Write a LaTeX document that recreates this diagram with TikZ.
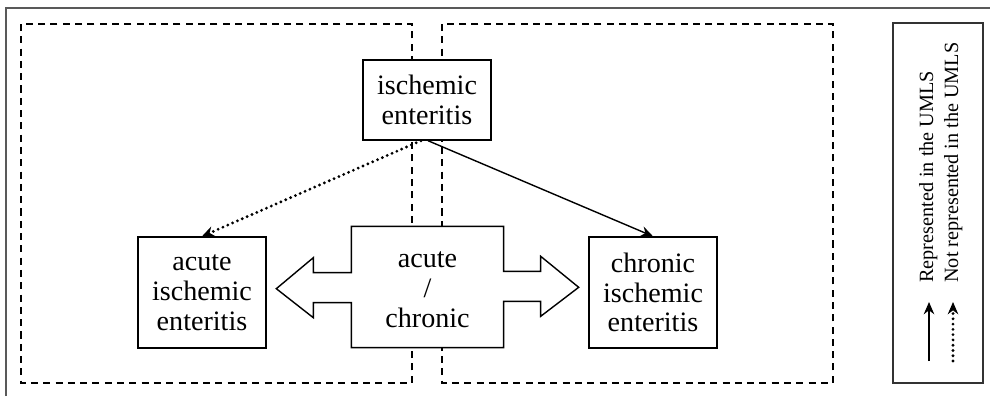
\documentclass[tikz,border=0pt]{standalone}
\usepackage{fontspec}
\setmainfont{Liberation Serif}
\usetikzlibrary{arrows.meta,calc}
\begin{document}
\begin{tikzpicture}[x=0.02cm,y=-0.02cm,
  concept/.style={draw,rectangle,fill=white,line width=0.8pt,align=center,inner sep=0pt,
    font=\fontsize{16}{17}\selectfont},
  group/.style={line width=0.9pt,dash pattern=on 4pt off 3pt},
  isa/.style={line width=0.8pt,-{Stealth[length=7pt,width=6pt]}},
  notisa/.style={line width=1.8pt,dash pattern=on 0pt off 3pt,line cap=round,
    -{Stealth[length=7pt,width=6pt,line width=0.7pt,line cap=butt]}},
  legendtext/.style={rotate=90,anchor=base west,inner sep=0pt,
    font=\fontsize{11.5}{14}\selectfont}]
\useasboundingbox (0,0) rectangle (990,396);
% outer frame, only top and left visible
\draw[gray!70!black,line width=1.2pt] (6,396) -- (6,8) -- (990,8);
% the two groups
\draw[group] (21,24) rectangle (412,383);
\draw[group] (442,24) rectangle (833,383);
% concepts
\node[concept,minimum width=2.56cm,minimum height=1.6cm] (top) at (427,100) {ischemic\\enteritis};
\node[concept,minimum width=2.56cm,minimum height=2.22cm] (acute) at (202,292.5) {acute\\ischemic\\enteritis};
\node[concept,minimum width=2.56cm,minimum height=2.22cm] (chronic) at (653,292.5) {chronic\\ischemic\\enteritis};
\node[concept,draw=none,fill=none,minimum width=3.02cm,minimum height=2.4cm] (mid) at (427.5,287) {};
\draw[line width=0.8pt,fill=white] (mid.north west) -- (mid.north east) -- ++(0,45) -- ++(37,0)
  -- ++(0,-15) -- ++(38,31) -- ++(-38,29) -- ++(0,-15) -- ++(-37,0) -- (mid.south east)
  -- (mid.south west) -- ++(0,-45) -- ++(-38,0) -- ++(0,15) -- ++(-37,-29) -- ++(37,-31)
  -- ++(0,15) -- ++(38,0) -- cycle;
\node[font=\fontsize{16}{17}\selectfont,align=center] (midtext) at ($(mid)+(0,3)$) {acute\\/\\chronic};
% relations
\draw[notisa] ($(top.south)+(-6,0)$) -- (acute.north);
\draw[isa] ($(top.south)+(1,0)$) -- (chronic.north);
% legend
\draw[line width=0.6pt,gray!40!black] (893,23) rectangle (983,383);
\coordinate (l1a) at (929,361);
\coordinate (l1b) at (929,302);
\coordinate (l2a) at (953,361);
\coordinate (l2b) at (953,302);
\draw[isa] (l1a) -- (l1b);
\draw[notisa] (l2a) -- (l2b);
\node[legendtext] (rep) at (933,283) {Represented in the UMLS};
\node[legendtext] (notrep) at (958,283) {Not represented in the UMLS};
\end{tikzpicture}
\end{document}
